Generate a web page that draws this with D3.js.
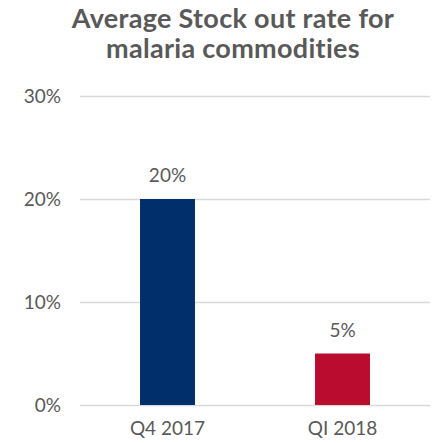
<!DOCTYPE html>
<html>
<head>
<meta charset="utf-8">
<script src="https://cdn.jsdelivr.net/npm/d3@7"></script>
<style>
  body { margin: 0; background: #fff; }
  text { font-family: Lato, "Open Sans", sans-serif; fill: #595959; }
</style>
</head>
<body>
<script>
// chart data
var quarters = ["Q4 2017", "QI 2018"];
var stockOut = [20, 5];
var barColors = ["#002F6C", "#BA0C2F"];
var yTicks = [0, 10, 20, 30];
var titleLines = ["Average Stock out rate for", "malaria commodities"];

var svg = d3.select('body').append('svg')
   .attr("width", 432)
   .attr("height", 443);

var x = d3.scaleBand()
  .domain(quarters)
  .range([80, 430])
  .paddingInner(0.686)
  .paddingOuter(0.343);

var y = d3.scaleLinear()
  .domain([0, 30])
  .range([405, 96]);

// title
svg.selectAll('.title')
  .data(titleLines)
  .enter()
  .append('text')
  .attr('class', 'title')
  .attr('x', 233)
  .attr('y', function(d, i) { return 28 + i * 30; })
  .attr('text-anchor', 'middle')
  .style('font-size', '27px')
  .style('font-weight', 'bold')
  .style('letter-spacing', '0.3px')
  .text(function(d) { return d; });

// gridlines + y labels
var yAxis = d3.axisLeft(y)
  .tickValues(yTicks)
  .tickSize(-350)
  .tickPadding(19)
  .tickFormat(function(d) { return d + '%'; });

var gy = svg.append('g')
  .attr('transform', 'translate(80,0)')
  .call(yAxis);
gy.select('.domain').remove();
gy.selectAll('line').attr('stroke', '#d9d9d9').attr('stroke-width', 1.5);
gy.selectAll('text').style('font-size', '19px').attr('fill', '#595959');

// bars
svg.selectAll('.bar')
  .data(stockOut)
  .enter()
  .append('rect')
  .attr('class', 'bar')
  .attr('x', function(d, i) { return x(quarters[i]); })
  .attr('y', function(d) { return y(d); })
  .attr('width', x.bandwidth())
  .attr('height', function(d) { return y(0) - y(d); })
  .attr('fill', function(d, i) { return barColors[i]; });

// value labels
svg.selectAll('.val')
  .data(stockOut)
  .enter()
  .append('text')
  .attr('class', 'val')
  .attr('x', function(d, i) { return x(quarters[i]) + x.bandwidth() / 2; })
  .attr('y', function(d) { return y(d) - 17; })
  .attr('text-anchor', 'middle')
  .style('font-size', '19px')
  .text(function(d) { return d + '%'; });

// x labels
var xAxis = d3.axisBottom(x).tickSize(0).tickPadding(17);
var gx = svg.append('g')
  .attr('transform', 'translate(0,405)')
  .call(xAxis);
gx.select('.domain').remove();
gx.selectAll('text').style('font-size', '19px').attr('fill', '#595959');
</script>
</body>
</html>
